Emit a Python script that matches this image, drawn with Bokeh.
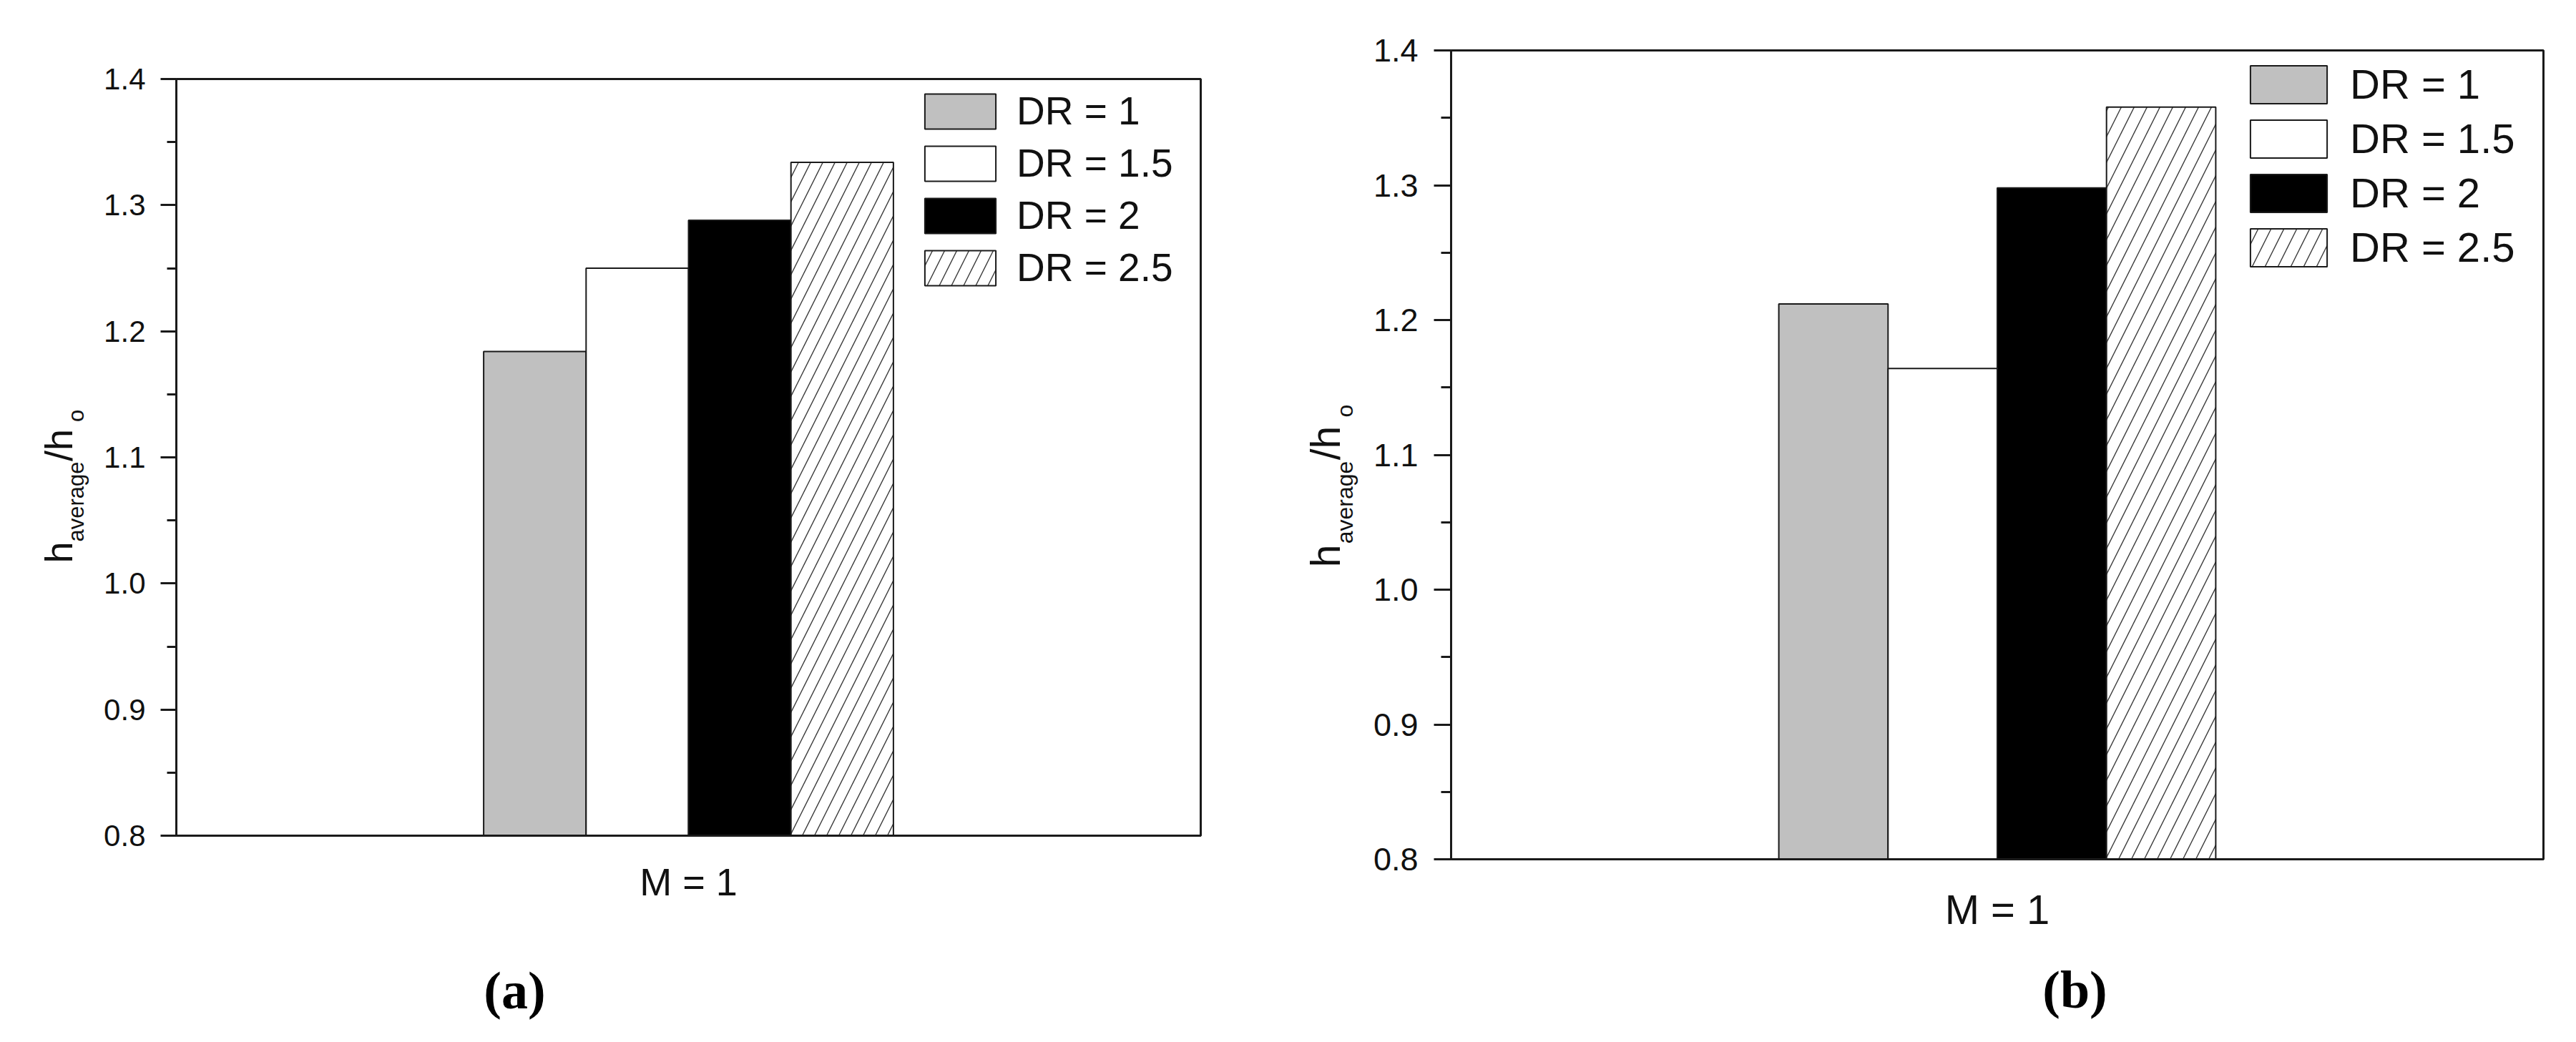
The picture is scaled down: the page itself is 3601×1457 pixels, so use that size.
from bokeh.plotting import figure
from bokeh.models import (ColumnDataSource, FactorRange, Range1d, FixedTicker, Legend,
                          LegendItem, Label, NumeralTickFormatter)
from bokeh.transform import dodge
from bokeh.layouts import row, column
from bokeh.embed import file_html
from bokeh.resources import INLINE

# ---------------- data ----------------
categories = ["M = 1"]
series_names = ["DR = 1", "DR = 1.5", "DR = 2", "DR = 2.5"]
values_a = [1.184, 1.250, 1.288, 1.334]
values_b = [1.212, 1.164, 1.298, 1.358]
y_ticks = [0.8, 0.9, 1.0, 1.1, 1.2, 1.3, 1.4]
y_tick_labels = ["0.8", "0.9", "1.0", "1.1", "1.2", "1.3", "1.4"]
y_minor_ticks = [0.85, 0.95, 1.05, 1.15, 1.25, 1.35]
y_start, y_end = 0.8, 1.4
panel_labels = ["(a)", "(b)"]
ylabel_parts = ["h", "average", "/h", "o"]

# ---------------- styles ----------------
INK = "#1a1a1a"
FONT = "Liberation Sans"
styles = [
    dict(fill="#c0c0c0", hatch=None),
    dict(fill="#ffffff", hatch=None),
    dict(fill="#000000", hatch=None),
    dict(fill="#ffffff", hatch="/"),
]
offsets = [-0.15, -0.05, 0.05, 0.15]

PAGE = 8          # page margin
TOP_H = 1302      # height of the chart row
CAP_H = 138       # height of the caption row

# positions below are page pixels (text centres)
cfg_a = dict(x0=PAGE, strip_w=120, W=1632, bl=118, br=82, bt=102, bb=142,
             tick_font="42px", tick_standoff=21, tick_out=22, minor_out=13,
             x_font="54px", x_standoff=34,
             lg_pad=13, gw=124, gh=61, gsp=9, lstand=17, lwidth=244, lfont="55px",
             hs=34,
             ylab=[(81, 772, "54px"), (106, 701, "31px"), (81, 622, "54px"), (106, 581, "31px")],
             plab=(719, 1384, "74px"))
cfg_b = dict(x0=PAGE + 1752, strip_w=150, W=1682, bl=118, br=37, bt=62, bb=109,
             tick_font="45px", tick_standoff=22, tick_out=24, minor_out=14,
             x_font="58px", x_standoff=37,
             lg_pad=14, gw=134, gh=66, gsp=9, lstand=19, lwidth=256, lfont="58px",
             hs=36,
             ylab=[(1852, 777, "57px"), (1879, 702, "32px"), (1852, 619, "57px"), (1879, 574, "32px")],
             plab=(2900, 1383, "74px"))


def make_chart(values, c):
    p = figure(x_range=FactorRange(factors=categories), y_range=Range1d(y_start, y_end),
               width=c["W"], height=TOP_H, output_backend="svg", toolbar_location=None,
               min_border_left=c["bl"], min_border_right=c["br"],
               min_border_top=c["bt"], min_border_bottom=c["bb"],
               background_fill_color="white", border_fill_color="white")
    p.xgrid.visible = False
    p.ygrid.visible = False
    p.outline_line_color = INK
    p.outline_line_width = 3
    p.outline_line_alpha = 1.0

    data = dict(x=categories)
    for i, v in enumerate(values):
        data[f"s{i}"] = [v]
    src = ColumnDataSource(data)

    items = []
    for i, name in enumerate(series_names):
        st = styles[i]
        kw = dict(fill_color=st["fill"], line_color=INK, line_width=2)
        if st["hatch"]:
            kw.update(hatch_pattern=st["hatch"], hatch_color="#3a3a3a",
                      hatch_weight=1.4, hatch_scale=c["hs"])
        r = p.vbar(x=dodge("x", offsets[i], range=p.x_range), top=f"s{i}",
                   bottom=y_start, width=0.1, source=src, **kw)
        items.append(LegendItem(label=name, renderers=[r]))

    ya = p.yaxis[0]
    ya.ticker = FixedTicker(ticks=y_ticks, minor_ticks=y_minor_ticks)
    ya.formatter = NumeralTickFormatter(format="0.0")
    ya.major_label_overrides = {t: l for t, l in zip(y_ticks, y_tick_labels)}
    ya.major_label_text_font = FONT
    ya.major_label_text_font_size = c["tick_font"]
    ya.major_label_text_color = "#111111"
    ya.major_label_standoff = c["tick_standoff"]
    ya.major_tick_out = c["tick_out"]
    ya.major_tick_in = 0
    ya.minor_tick_out = c["minor_out"]
    ya.minor_tick_in = 0
    ya.axis_line_width = 3
    ya.axis_line_color = INK
    ya.major_tick_line_width = 3
    ya.major_tick_line_color = INK
    ya.minor_tick_line_width = 3
    ya.minor_tick_line_color = INK

    xa = p.xaxis[0]
    xa.major_tick_out = 0
    xa.major_tick_in = 0
    xa.minor_tick_out = 0
    xa.minor_tick_in = 0
    xa.axis_line_width = 3
    xa.axis_line_color = INK
    xa.major_label_text_font = FONT
    xa.major_label_text_font_size = c["x_font"]
    xa.major_label_text_color = "#111111"
    xa.major_label_standoff = c["x_standoff"]

    lg = Legend(items=items, location="top_right", margin=0, padding=c["lg_pad"],
                spacing=c["gsp"], glyph_width=c["gw"], glyph_height=c["gh"],
                label_standoff=c["lstand"], label_width=c["lwidth"], label_height=c["gh"],
                label_text_font=FONT, label_text_font_size=c["lfont"],
                label_text_color="#111111",
                border_line_alpha=0, background_fill_alpha=0)
    p.add_layout(lg)
    return p


def make_strip(c):
    """Narrow canvas left of the chart holding the y-axis title (page coordinates)."""
    x0, x1 = c["x0"], c["x0"] + c["strip_w"]
    top, bottom = PAGE + c["bt"], PAGE + TOP_H - c["bb"]
    f = figure(width=c["strip_w"], height=TOP_H,
               x_range=Range1d(x0, x1), y_range=Range1d(bottom, top),
               x_axis_type=None, y_axis_type=None, title=None,
               min_border_left=0, min_border_right=0,
               min_border_top=c["bt"], min_border_bottom=c["bb"],
               toolbar_location=None, output_backend="svg",
               background_fill_color="white", border_fill_color="white")
    f.outline_line_color = None
    for txt, (x, y, size) in zip(ylabel_parts, c["ylab"]):
        f.add_layout(Label(x=x, y=y, text=txt, angle=90, angle_units="deg",
                           text_font=FONT, text_font_size=size, text_align="center",
                           text_baseline="middle", text_color="#111111"))
    return f


def make_caption(label, c):
    width = c["strip_w"] + c["W"]
    x0 = c["x0"]
    y_top = PAGE + TOP_H
    f = figure(width=width, height=CAP_H,
               x_range=Range1d(x0, x0 + width - c["br"]),
               y_range=Range1d(y_top + CAP_H, y_top),
               x_axis_type=None, y_axis_type=None, title=None,
               min_border_left=0, min_border_right=c["br"],
               min_border_top=0, min_border_bottom=0,
               toolbar_location=None, output_backend="svg",
               background_fill_color="white", border_fill_color="white")
    f.outline_line_color = None
    px, py, psize = c["plab"]
    f.add_layout(Label(x=px, y=py, text=label, text_font="Liberation Serif",
                       text_font_style="bold", text_font_size=psize,
                       text_align="center", text_baseline="middle",
                       text_color="#000000"))
    return f


panel_a = column(row(make_strip(cfg_a), make_chart(values_a, cfg_a)),
                 make_caption(panel_labels[0], cfg_a))
panel_b = column(row(make_strip(cfg_b), make_chart(values_b, cfg_b)),
                 make_caption(panel_labels[1], cfg_b))

# two independent roots placed side by side, so each chart keeps its own frame
TEMPLATE = """
{% block contents %}
{% from macros import embed %}
<div style="display: flex; flex-direction: row; align-items: flex-start; padding: 8px 0 0 8px;">
{% for doc in docs %}{% for root in doc.roots %}
<div style="flex: none;">{{ embed(root) }}</div>
{% endfor %}{% endfor %}
</div>
{% endblock %}
"""

open("out.html", "w").write(file_html([panel_a, panel_b], INLINE, template=TEMPLATE))
